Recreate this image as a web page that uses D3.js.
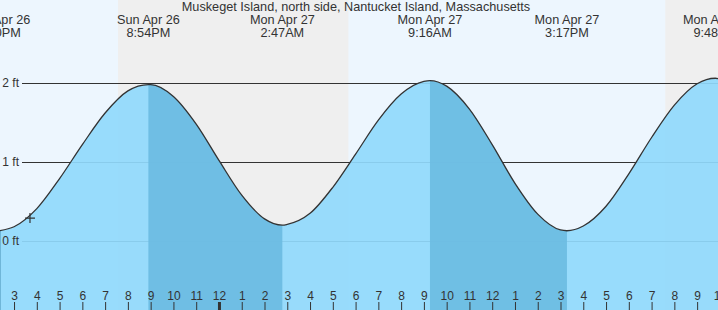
<!DOCTYPE html>
<html>
<head>
    <meta charset="utf-8">
    <style>
        body {
            margin: 0;
            background: #fff;
        }

        svg {
            display: block;
            font-family: 'Liberation Sans', Arial, sans-serif;
        }

        .x .domain,
        .y .domain {
            display: none;
        }

        .x .tick text,
        .y .tick text {
            font-size: 12px;
            fill: #333;
        }

        .x .tick line {
            stroke: #333;
        }

        .y .tick line {
            stroke: #333;
        }

        .title,
        .tide-label {
            font-size: 12.7px;
            fill: #333;
        }
    </style>
</head>

<body>
    <svg width="718" height="310"></svg>

    <script src="https://cdn.jsdelivr.net/npm/d3@7"></script>
    <script>
        let width = 718;
        let height = 310;

        let title = "Muskeget Island, north side, Nantucket Island, Massachusetts";

        // high / low tides (local time, feet)
        let extremeTimes = ["2020-04-26 14:20", "2020-04-26 20:54", "2020-04-27 02:47",
            "2020-04-27 09:16", "2020-04-27 15:17", "2020-04-27 21:48"];
        let extremeFeet = [0.13, 1.98, 0.20, 2.03, 0.13, 2.06];
        let extremeType = ["low", "high", "low", "high", "low", "high"];

        // hourly readings
        let hourTimes = ["2020-04-26 15:00", "2020-04-26 16:00", "2020-04-26 17:00", "2020-04-26 18:00",
            "2020-04-26 19:00", "2020-04-26 20:00", "2020-04-26 21:00", "2020-04-26 22:00",
            "2020-04-26 23:00", "2020-04-27 00:00", "2020-04-27 01:00", "2020-04-27 02:00",
            "2020-04-27 03:00", "2020-04-27 04:00", "2020-04-27 05:00", "2020-04-27 06:00",
            "2020-04-27 07:00", "2020-04-27 08:00", "2020-04-27 09:00", "2020-04-27 10:00",
            "2020-04-27 11:00", "2020-04-27 12:00", "2020-04-27 13:00", "2020-04-27 14:00",
            "2020-04-27 15:00", "2020-04-27 16:00", "2020-04-27 17:00", "2020-04-27 18:00",
            "2020-04-27 19:00", "2020-04-27 20:00", "2020-04-27 21:00", "2020-04-27 22:00"];
        let hourFeet = [0.18, 0.41, 0.79, 1.22, 1.62, 1.90, 1.98, 1.83,
            1.48, 1.02, 0.58, 0.28, 0.21, 0.35, 0.68, 1.10,
            1.53, 1.86, 2.02, 1.96, 1.67, 1.22, 0.73, 0.34,
            0.14, 0.19, 0.44, 0.85, 1.31, 1.72, 1.99, 2.05];

        // sunset / sunrise
        let nightStarts = ["2020-04-26 19:34", "2020-04-27 19:36"];
        let nightEnds = ["2020-04-27 05:41", "2020-04-28 05:40"];

        // current reading marker
        let nowTime = "2020-04-26 15:42";
        let nowFeet = 0.29;

        let feetTicks = [0, 1, 2];

        let parse = d3.timeParse("%Y-%m-%d %H:%M");

        let extremes = extremeTimes.map(function (t, i) {
            return { time: parse(t), feet: extremeFeet[i], type: extremeType[i] }
        })

        let readings = hourTimes.map(function (t, i) {
            return { time: parse(t), feet: hourFeet[i] }
        }).concat(extremes.map(function (d) { return { time: d.time, feet: d.feet } }))
            .sort(function (a, b) { return a.time - b.time })

        let svg = d3.select("svg");

        let x = d3.scaleTime()
            .domain([parse("2020-04-26 14:23"), parse("2020-04-27 21:55")])
            .range([0, width])

        let y = d3.scaleLinear()
            .domain([0, 2])
            .range([241, 83])

        // day background then night bands
        svg.append("rect")
            .attr("width", width)
            .attr("height", height)
            .style("fill", "#edf6fe")

        svg.append("g")
            .selectAll("rect")
            .data(nightStarts)
            .join("rect")
            .attr("x", function (d) { return x(parse(d)) })
            .attr("width", function (d, i) { return x(parse(nightEnds[i])) - x(parse(d)) })
            .attr("y", 0)
            .attr("height", height)
            .style("fill", "#efefef")

        // feet grid lines (under the water)
        let yAxisSettings = d3.axisLeft(y)
            .tickValues(feetTicks)
            .tickSize(-(width - 22))
            .tickPadding(3)
            .tickFormat(function (d) { return d + " ft" })

        let yAxis = svg.append("g")
            .attr("class", "y axis")
            .attr("transform", "translate(22,0)")
            .call(yAxisSettings)

        yAxis.selectAll("text").remove()

        let area = d3.area()
            .x(function (d) { return x(d.time) })
            .y0(height)
            .y1(function (d) { return y(d.feet) })
            .curve(d3.curveMonotoneX)

        let line = d3.line()
            .x(function (d) { return x(d.time) })
            .y(function (d) { return y(d.feet) })
            .curve(d3.curveMonotoneX)

        // falling tide = between a high and the next low
        let ebbs = extremes.filter(function (d, i) {
            return d.type == "high" && extremes[i + 1]
        }).map(function (d) {
            let i = extremes.indexOf(d)
            return [d.time, extremes[i + 1].time]
        })

        svg.append("clipPath")
            .attr("id", "ebb")
            .selectAll("rect")
            .data(ebbs)
            .join("rect")
            .attr("x", function (d) { return x(d[0]) })
            .attr("width", function (d) { return x(d[1]) - x(d[0]) })
            .attr("y", 0)
            .attr("height", height)

        svg.append("path")
            .datum(readings)
            .attr("d", area)
            .style("fill", "#90d9fc")
            .style("opacity", 0.92)

        svg.append("path")
            .datum(readings)
            .attr("d", area)
            .attr("clip-path", "url(#ebb)")
            .style("fill", "#6bbce2")
            .style("opacity", 0.92)

        // thin edge on the left side of the water
        svg.append("line")
            .attr("x1", 0.5)
            .attr("x2", 0.5)
            .attr("y1", y(readings[0].feet))
            .attr("y2", height)
            .style("stroke", "#6fb6d8")
            .style("stroke-width", 1)

        svg.append("path")
            .datum(readings)
            .attr("d", line)
            .style("fill", "none")
            .style("stroke", "#333")
            .style("stroke-width", 1.3)

        // y labels on top
        svg.append("g")
            .attr("class", "y axis")
            .attr("transform", "translate(22,0)")
            .call(yAxisSettings.tickSize(0))
            .selectAll("line").remove()

        // hour ticks along the bottom
        let hourTickValues = d3.timeHour.range(parse("2020-04-26 14:00"), parse("2020-04-27 23:00"))

        let xAxisSettings = d3.axisTop(x)
            .tickValues(hourTickValues)
            .tickSize(8)
            .tickPadding(2)
            .tickFormat(d3.timeFormat("%-I"))

        let xAxis = svg.append("g")
            .attr("class", "x axis")
            .attr("transform", `translate(0,${height})`)
            .call(xAxisSettings)

        xAxis.selectAll(".tick")
            .filter(function (d) { return d.getHours() == 0 })
            .select("line")
            .style("stroke-width", 3)

        // current marker
        svg.append("path")
            .attr("transform", `translate(${x(parse(nowTime))},${y(nowFeet)})`)
            .attr("d", "M-5,0H5M0,-5V5")
            .style("stroke", "#333")
            .style("stroke-width", 1.2)

        // labels for each high / low
        let dayFmt = d3.timeFormat("%a %b %-d");
        let timeFmt = d3.timeFormat("%-I:%M%p");

        let labels = svg.append("g")
            .selectAll("text")
            .data(extremes)
            .join("text")
            .attr("class", "tide-label")
            .attr("text-anchor", "middle")
            .attr("x", function (d) { return x(d.time) })
            .attr("y", 24)

        labels.append("tspan")
            .attr("x", function (d) { return x(d.time) })
            .text(function (d) { return dayFmt(d.time) })

        labels.append("tspan")
            .attr("x", function (d) { return x(d.time) })
            .attr("dy", 12.5)
            .text(function (d) { return timeFmt(d.time) })

        svg.append("text")
            .attr("class", "title")
            .attr("text-anchor", "middle")
            .attr("x", 356)
            .attr("y", 11)
            .text(title)
    </script>
</body>

</html>
